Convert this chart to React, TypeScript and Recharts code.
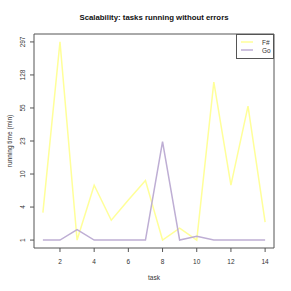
import React from 'react';
import { LineChart, Line, XAxis, YAxis, ReferenceArea } from 'recharts';

const tasks = [1, 2, 3, 4, 5, 6, 7, 8, 9, 10, 11, 12, 13, 14];
const fsharp = [3, 297, 1, 7, 2.3, 4.5, 8, 1, 1.7, 1, 107, 7, 58, 2.15];
const go = [1, 1, 1.6, 1, 1, 1, 1, 23, 1, 1.2, 1, 1, 1, 1];
const yTickLabels = ['1', '4', '10', '23', '55', '128', '297'];
const xTicks = [2, 4, 6, 8, 10, 12, 14];
const seriesNames = ['F#', 'Go'];

const FS_COLOR = '#FFFF99';
const GO_COLOR = '#BEAED4';
const AXIS_COLOR = '#555555';
const FONT = 'Liberation Sans, Arial, Helvetica, sans-serif';

const tf = (v: number) => Math.log(v + 1);
const lo = tf(1);
const hi = tf(297);
const step = (hi - lo) / (yTickLabels.length - 1);
const yTicks = yTickLabels.map((_, i) => lo + i * step);
const yPad = (hi - lo) * 0.04;
const xPad = (tasks[tasks.length - 1] - tasks[0]) * 0.04;
const xDomain = [tasks[0] - xPad, tasks[tasks.length - 1] + xPad];
const yDomain = [lo - yPad, hi + yPad];

const data = tasks.map((t, i) => ({ task: t, fs: tf(fsharp[i]), go: tf(go[i]) }));

const YTick = (props: any) => {
  const { y, index } = props;
  return (
    <g>
      <line x1={30} x2={34} y1={y} y2={y} stroke={AXIS_COLOR} strokeWidth={1} />
      <text x={25} y={y} transform={`rotate(-90 25 ${y})`} textAnchor="middle" fontSize={6.5} fontFamily={FONT} fill="#333">
        {yTickLabels[index]}
      </text>
    </g>
  );
};

const XTick = (props: any) => {
  const { x, payload } = props;
  return (
    <g>
      <line x1={x} x2={x} y1={248} y2={252} stroke={AXIS_COLOR} strokeWidth={1} />
      <text x={x} y={264} textAnchor="middle" fontSize={6.5} fontFamily={FONT} fill="#333">
        {payload.value}
      </text>
    </g>
  );
};

export default function App() {
  return (
    <div style={{ position: 'absolute', left: 0, top: 0, width: 291, height: 291, background: 'white' }}>
      <LineChart width={291} height={291} data={data} margin={{ top: 34, right: 17, bottom: 0, left: 0 }}>
        <text x={154} y={20} textAnchor="middle" fontSize={7.8} fontWeight="bold" fontFamily={FONT} fill="#111">
          Scalability: tasks running without errors
        </text>
        <text x={154} y={280} textAnchor="middle" fontSize={6.5} fontFamily={FONT} fill="#333">task</text>
        <text x={12} y={141} transform="rotate(-90 12 141)" textAnchor="middle" fontSize={6.5} fontFamily={FONT} fill="#333">
          running time (min)
        </text>
        <XAxis
          dataKey="task"
          type="number"
          domain={xDomain}
          ticks={xTicks}
          axisLine={false}
          tickLine={false}
          tick={<XTick />}
          height={43}
          allowDataOverflow
        />
        <YAxis
          type="number"
          domain={yDomain}
          ticks={yTicks}
          axisLine={false}
          tickLine={false}
          tick={<YTick />}
          width={34}
          allowDataOverflow
        />
        <ReferenceArea
          x1={xDomain[0]}
          x2={xDomain[1]}
          y1={yDomain[0]}
          y2={yDomain[1]}
          fill="none"
          stroke={AXIS_COLOR}
          strokeWidth={1}
          ifOverflow="visible"
        />
        <Line dataKey="fs" stroke={FS_COLOR} strokeWidth={1.5} dot={false} isAnimationActive={false} type="linear" />
        <Line dataKey="go" stroke={GO_COLOR} strokeWidth={1.5} dot={false} isAnimationActive={false} type="linear" />
        <g>
          <rect x={236.5} y={34.5} width={37} height={24} fill="white" stroke={AXIS_COLOR} strokeWidth={1} />
          <line x1={241} x2={253} y1={42} y2={42} stroke={FS_COLOR} strokeWidth={1.5} />
          <line x1={241} x2={253} y1={50} y2={50} stroke={GO_COLOR} strokeWidth={1.5} />
          <text x={262} y={44.5} fontSize={6.5} fontFamily={FONT} fill="#333">{seriesNames[0]}</text>
          <text x={262} y={52.5} fontSize={6.5} fontFamily={FONT} fill="#333">{seriesNames[1]}</text>
        </g>
      </LineChart>
    </div>
  );
}
